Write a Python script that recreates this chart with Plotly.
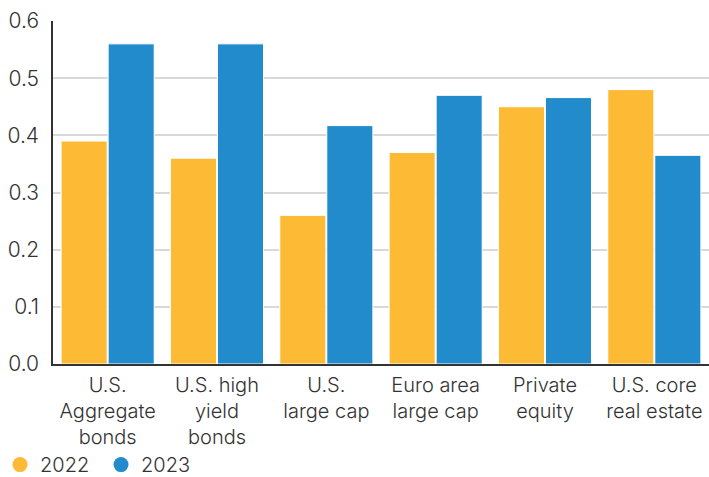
import plotly.graph_objects as go

categories = ["U.S.<br>Aggregate<br>bonds", "U.S. high<br>yield<br>bonds", "U.S.<br>large cap",
              "Euro area<br>large cap", "Private<br>equity", "U.S. core<br>real estate"]
values_2022 = [0.39, 0.36, 0.26, 0.37, 0.45, 0.48]
values_2023 = [0.56, 0.56, 0.417, 0.47, 0.466, 0.365]
series_names = ["2022", "2023"]
colors = ["#FDBA35", "#228BCC"]
y_ticks = [0, 0.1, 0.2, 0.3, 0.4, 0.5, 0.6]
y_ticklabels = ["0.0", "0.1", "0.2", "0.3", "0.4", "0.5", "0.6"]

FONT = "Inter"
fig = go.Figure()
for name, vals, col in zip(series_names, [values_2022, values_2023], colors):
    fig.add_trace(go.Bar(x=categories, y=vals, name=name, marker=dict(color=col, line=dict(color="white", width=1)),
                         showlegend=False))
for name, col in zip(series_names, colors):
    fig.add_trace(go.Scatter(x=[None], y=[None], mode="markers", name=name,
                             marker=dict(color=col, size=15, symbol="circle")))

fig.update_layout(
    width=709, height=477,
    margin=dict(l=53, r=0, t=21, b=113),
    paper_bgcolor="white", plot_bgcolor="white",
    barmode="group", bargap=0.14, bargroupgap=0.02,
    font=dict(family=FONT, size=20, color="#333333", weight=300),
    xaxis=dict(showline=True, linecolor="#333333", linewidth=1.5, ticks="", ticklabelstandoff=2,
               tickfont=dict(size=20, weight=300), automargin=False),
    yaxis=dict(range=[0, 0.6], tickvals=y_ticks, ticktext=y_ticklabels, showgrid=True,
               gridcolor="#d9d9d9", gridwidth=1.5, showline=True, linecolor="#333333", linewidth=1.5,
               ticks="", tickfont=dict(size=21, weight=300), zeroline=False, ticklabelstandoff=8,
               automargin=False),
    legend=dict(orientation="h", xref="container", yref="container", x=0, y=0.026,
                xanchor="left", yanchor="middle", font=dict(size=20, weight=300), itemwidth=30,
                entrywidth=56, entrywidthmode="pixels", traceorder="normal"),
)
fig.write_html("out.html", config={"displayModeBar": False},
               post_script="document.body.style.margin='0';document.body.style.overflow='hidden';")
